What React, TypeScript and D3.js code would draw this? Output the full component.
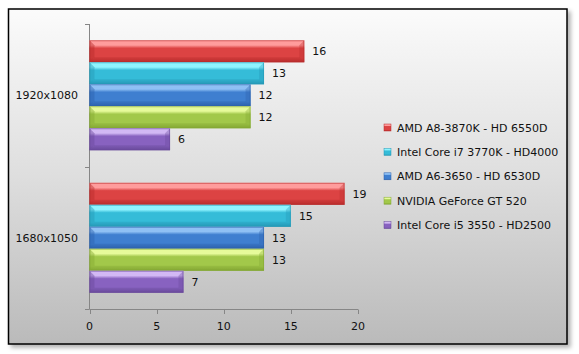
import React from "react"
import * as d3 from "d3"

// chart data
const categories = ["1920x1080", "1680x1050"]
const seriesNames = [
  "AMD A8-3870K - HD 6550D",
  "Intel Core i7 3770K - HD4000",
  "AMD A6-3650 - HD 6530D",
  "NVIDIA GeForce GT 520",
  "Intel Core i5 3550 - HD2500",
]
const amdA8 = [16, 19]
const intelI7 = [13, 15]
const amdA6 = [12, 13]
const nvidiaGT520 = [12, 13]
const intelI5 = [6, 7]
const xTicks = [0, 5, 10, 15, 20]

const seriesValues = [amdA8, intelI7, amdA6, nvidiaGT520, intelI5]

// light / mid / dark shades per series
const palette = [
  { light: "#ff9c9c", mid: "#dc4343", dark: "#b92d2d" },
  { light: "#8ff4ff", mid: "#35bcd8", dark: "#2699b6" },
  { light: "#8fc0f4", mid: "#3f7fd0", dark: "#2d62ad" },
  { light: "#e6fa9a", mid: "#a2c84a", dark: "#84a834" },
  { light: "#d2b8f4", mid: "#8862c0", dark: "#6a4a9c" },
]

const W = 579
const H = 354
const font = "'DejaVu Sans', Verdana, sans-serif"
const fs = 11

export default function App() {
  const x = d3.scaleLinear().domain([0, 20]).range([89.5, 358])
  const y = d3.scaleBand().domain(categories).range([24, 309]).padding(0)
  const inner = d3
    .scaleBand()
    .domain(seriesNames)
    .range([0, y.bandwidth()])
    .paddingInner(0)
    .paddingOuter(0.74)

  const bevel = 5

  return (
    <svg width={W} height={H} style={{ position: "absolute", left: 0, top: 0, fontFamily: font }}>
      <defs>
        <linearGradient id="bg" x1="0" y1="0" x2="0" y2="1">
          <stop offset="0" stopColor="#fbfbfb" />
          <stop offset="0.5" stopColor="#dedede" />
          <stop offset="1" stopColor="#bababa" />
        </linearGradient>
        <filter id="shadow" x="-5%" y="-5%" width="115%" height="115%">
          <feDropShadow dx="3" dy="3" stdDeviation="2" floodColor="#000" floodOpacity="0.3" />
        </filter>
        {palette.map((p, i) => (
          <linearGradient key={i} id={"bar" + i} x1="0" y1="0" x2="0" y2="1">
            <stop offset="0" stopColor={p.light} />
            <stop offset="0.22" stopColor={p.light} />
            <stop offset="0.36" stopColor={p.mid} />
            <stop offset="0.8" stopColor={p.mid} />
            <stop offset="1" stopColor={p.dark} />
          </linearGradient>
        ))}
      </defs>

      <rect x={8.5} y={9} width={558.5} height={335} fill="url(#bg)" stroke="#000" strokeWidth={1.5} filter="url(#shadow)" />

      {/* axes */}
      <g stroke="#868686" strokeWidth={1} fill="none">
        <line x1={89.5} x2={89.5} y1={24} y2={309} />
        <line x1={89.5} x2={358} y1={309.5} y2={309.5} />
        {[24, 166.5, 309].map((v, i) => (
          <line key={"yt" + i} x1={85} x2={89.5} y1={Math.round(v) + 0.5} y2={Math.round(v) + 0.5} />
        ))}
        {xTicks.map(t => (
          <line key={"xt" + t} x1={Math.round(x(t)) + 0.5} x2={Math.round(x(t)) + 0.5} y1={309.5} y2={314} />
        ))}
      </g>

      {xTicks.map(t => (
        <text key={"xl" + t} x={x(t)} y={330} textAnchor="middle" fontSize={fs} fill="#111">
          {t}
        </text>
      ))}

      {categories.map(c => (
        <text key={c} x={78} y={(y(c) as number) + y.bandwidth() / 2 + 4} textAnchor="end" fontSize={fs} fill="#111">
          {c}
        </text>
      ))}

      {/* bars */}
      {categories.map((c, ci) =>
        seriesNames.map((s, si) => {
          const v = seriesValues[si][ci]
          const y0 = (y(c) as number) + (inner(s) as number)
          const h = inner.bandwidth()
          const x0 = x(0)
          const x1 = x(v)
          const y1 = y0 + h
          const p = palette[si]
          return (
            <g key={c + s}>
              <rect x={x0} y={y0} width={x1 - x0} height={h} fill={"url(#bar" + si + ")"} />
              <polygon
                points={`${x0},${y0} ${x0 + bevel},${y0 + bevel} ${x0 + bevel},${y1 - bevel} ${x0},${y1}`}
                fill={p.dark}
                opacity={0.45}
              />
              <polygon
                points={`${x1},${y0} ${x1 - bevel},${y0 + bevel} ${x1 - bevel},${y1 - bevel} ${x1},${y1}`}
                fill={p.dark}
                opacity={0.35}
              />
              <polygon points={`${x0},${y1} ${x0 + bevel},${y1 - bevel} ${x1 - bevel},${y1 - bevel} ${x1},${y1}`} fill={p.dark} opacity={0.4} />
              <rect x={x0 + 0.5} y={y0 + 0.5} width={x1 - x0 - 1} height={h - 1} fill="none" stroke={p.dark} strokeOpacity={0.6} />
              <text x={x1 + 8} y={y0 + h / 2 + 4} fontSize={fs} fill="#111">
                {v}
              </text>
            </g>
          )
        })
      )}

      {/* legend */}
      {seriesNames.map((s, i) => {
        const ly = 127.5 + i * 24.4
        return (
          <g key={"lg" + s}>
            <rect x={384} y={ly - 3.5} width={7} height={7} fill={"url(#bar" + i + ")"} stroke={palette[i].dark} strokeWidth={0.5} />
            <text x={397} y={ly + 4} fontSize={fs} fill="#111">
              {s}
            </text>
          </g>
        )
      })}
    </svg>
  )
}
